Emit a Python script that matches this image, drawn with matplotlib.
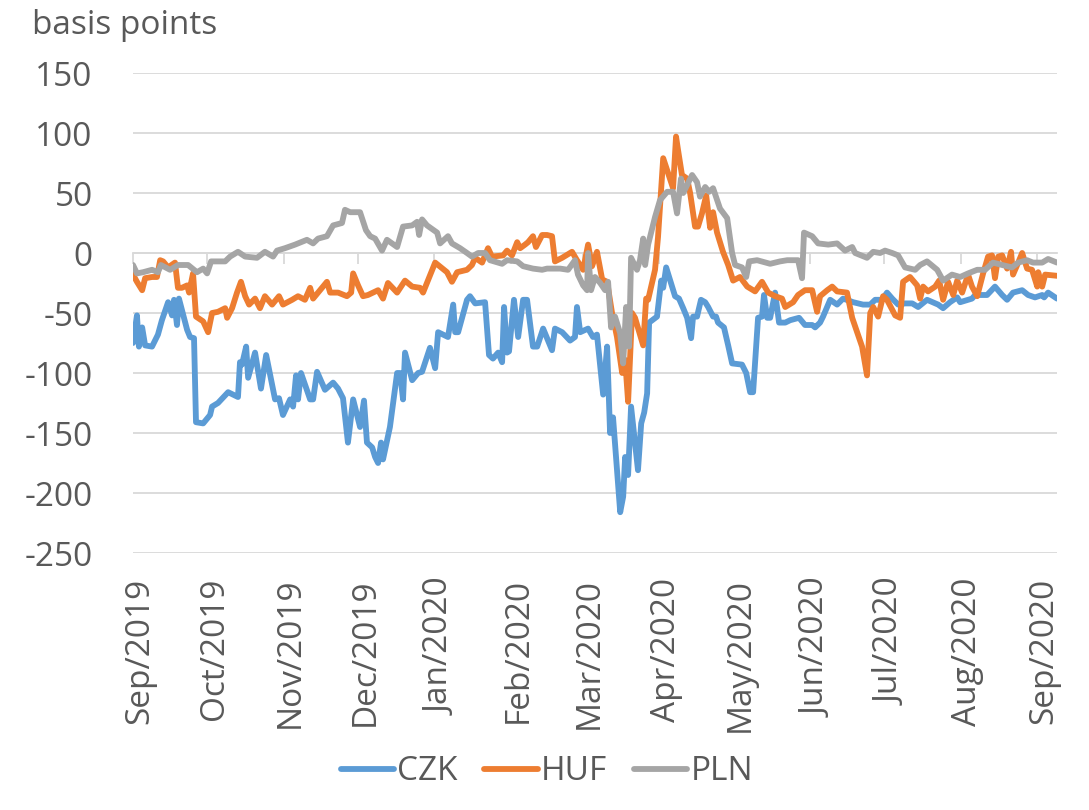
import numpy as np
import pandas as pd
import matplotlib
matplotlib.use("Agg")
import matplotlib.pyplot as plt
import matplotlib.dates as mdates
from matplotlib.transforms import ScaledTranslation

plt.rcParams['font.family'] = ['Open Sans', 'DejaVu Sans']
plt.rcParams['axes.unicode_minus'] = False

# (days since 1 Sep 2019, basis points)
czk_points = [
    (0, -75), (1.6, -52), (2.4, -78), (3.7, -62), (4.9, -77), (7.7, -78), (10.1, -68), (11.7, -56),
    (14.2, -41), (15.8, -52), (16.6, -39), (17.8, -60), (18.6, -38), (21.9, -64), (23.1, -70), (24.7, -71),
    (25.5, -141), (28.4, -142), (31.2, -135), (32, -128), (34.4, -125), (38.5, -116), (42.5, -120), (43.3, -91),
    (44.1, -93), (45.8, -78), (46.6, -104), (49.4, -83), (51.8, -113), (53.9, -85), (57.5, -122), (59.1, -121),
    (60.7, -135), (63.6, -122), (64.8, -128), (66, -102), (66.8, -122), (68, -100), (71.7, -122), (72.9, -122),
    (74.5, -99), (77.7, -114), (81, -108), (83, -113), (85, -121), (87, -158), (89.1, -122), (91.9, -145),
    (93.5, -123), (94.7, -158), (96.8, -162), (98, -170), (99.2, -175), (100.4, -158), (101.2, -172), (104, -145),
    (106.9, -100), (108.1, -100), (109.3, -122), (110.1, -83), (113, -106), (115.4, -100), (117, -99), (120.2, -79),
    (122.3, -96), (123.5, -66), (127.5, -70), (129.6, -43), (130.4, -66), (131.6, -66), (135.2, -39), (136.4, -36),
    (138.5, -42), (142.5, -41), (144.1, -85), (145.7, -88), (147.8, -83), (149.4, -91), (150.2, -45), (151.4, -83),
    (152.2, -82), (154.2, -39), (155.9, -70), (157.9, -39), (159.5, -39), (161.9, -78), (163.6, -78), (166, -63),
    (169.6, -81), (170.8, -63), (173.7, -66), (176.9, -73), (178.9, -70), (179.7, -45), (181, -66), (184.2, -63),
    (186.2, -70), (187.8, -68), (190.3, -118), (191.9, -78), (193.1, -150), (194.3, -137), (197.2, -216), (198.4, -203),
    (199.2, -170), (200.4, -185), (201.6, -128), (204.4, -181), (205.7, -142), (206.9, -133), (208.1, -117), (208.9, -58),
    (212.1, -53), (213.8, -23), (214.6, -29), (215.8, -12), (219.4, -36), (221, -38), (222.7, -46), (224.3, -54),
    (225.9, -71), (226.7, -53), (228.3, -53), (229.9, -39), (231.6, -41), (232.8, -45), (234.8, -53), (236, -53),
    (236.8, -58), (239.2, -62), (240.9, -77), (242.5, -92), (246.5, -93), (248.2, -100), (249.8, -116), (251, -116),
    (253, -54), (254.6, -53), (255.4, -35), (256.7, -54), (257.9, -54), (259.9, -33), (261.5, -58), (264, -58),
    (266, -56), (269.6, -54), (272, -60), (274.9, -60), (276.1, -62), (278.1, -58), (279.3, -53), (282.2, -39),
    (285, -43), (287.4, -38), (291.5, -41), (295.5, -43), (298.4, -43), (300.4, -39), (303.2, -39), (305.2, -33),
    (307.3, -38), (309.7, -43), (312.5, -42), (315.4, -42), (317.8, -45), (321.4, -39), (325.9, -43), (327.9, -46),
    (330.7, -41), (333.6, -37), (334.8, -41), (339.6, -38), (340.9, -35), (345.7, -35), (348.9, -28), (351.8, -35),
    (353.8, -39), (356.2, -33), (359.9, -31), (362.3, -35), (365.1, -37), (368, -35), (368.8, -37), (370.4, -33),
    (374, -38),
]

huf_points = [
    (0, -18), (1.6, -24), (3.7, -31), (4.9, -21), (7.7, -20), (9.7, -20), (11, -6), (12.2, -7),
    (14.2, -12), (17, -8), (18.2, -29), (19.8, -29), (21.9, -27), (22.7, -33), (24.3, -17), (25.5, -53),
    (28.4, -57), (30.4, -66), (32, -50), (34.4, -49), (37.3, -46), (38.1, -54), (40.1, -46), (42.1, -33),
    (43.7, -24), (45.4, -36), (47, -43), (49.4, -38), (51.4, -46), (53.4, -36), (56.3, -43), (59.1, -36),
    (60.7, -43), (64.4, -39), (66.8, -36), (69.6, -39), (71.7, -29), (72.9, -38), (74.9, -33), (78.5, -24),
    (79.8, -33), (83, -33), (86.6, -36), (88.3, -33), (89.1, -17), (91.1, -27), (93.1, -36), (95.1, -35),
    (99.2, -31), (101.2, -38), (103.2, -25), (106.9, -33), (110.1, -23), (113, -28), (116.2, -29), (117.4, -33),
    (122.3, -8), (127.1, -16), (129.1, -24), (131.2, -16), (135.2, -14), (137.2, -10), (138.5, -4), (141.3, -8),
    (143.7, 4), (145.3, -3), (149.8, -2), (151.4, 2), (153.4, -2), (155.5, 9), (156.7, 4), (158.7, 7),
    (159.9, 9), (161.9, 14), (163.1, 5), (165.6, 15), (167.6, 15), (169.6, 14), (170.8, -7), (173.7, -4),
    (177.7, 1), (179.7, -6), (182.2, -14), (184.2, 7), (185.8, -11), (187.8, 1), (189.9, -22), (191.9, -24),
    (193.9, -50), (195.9, -70), (198, -100), (199.2, -89), (200.4, -124), (202, -50), (203.2, -54), (206.5, -77),
    (207.7, -38), (208.5, -39), (211.3, -14), (212.5, 13), (214.6, 79), (216.2, 69), (218.6, 54), (219.8, 97),
    (220.6, 86), (222.2, 65), (224.3, 62), (225.5, 50), (227.5, 22), (228.7, 22), (230.3, 33), (232, 48),
    (233.6, 21), (234.8, 34), (236.4, 17), (238.8, 1), (240.9, -10), (242.9, -23), (245.7, -20), (248.6, -28),
    (251.8, -32), (254.6, -24), (257.1, -33), (259.9, -36), (262.7, -38), (264, -45), (267.2, -41), (269.2, -35),
    (272, -31), (274.9, -31), (276.9, -49), (278.1, -36), (281, -31), (283, -28), (285, -32), (289, -33),
    (291.1, -54), (295.1, -78), (297.1, -102), (298.4, -50), (299.6, -45), (301.6, -53), (303.6, -36), (305.2, -39),
    (308.5, -52), (310.5, -54), (311.7, -24), (314.5, -20), (317.4, -27), (318.6, -38), (319.8, -28), (321.8, -32),
    (324.7, -28), (326.3, -23), (327.9, -39), (329.9, -24), (332, -35), (333.6, -23), (335.6, -33), (338, -18),
    (339.6, -28), (341.7, -36), (344.1, -17), (346.1, -3), (347.7, -2), (348.9, -21), (350.2, -3), (351.8, -2),
    (353.8, -13), (355.4, 1), (356.2, -18), (358.3, -8), (359.9, 0), (361.9, -13), (363.9, -14), (366, -28),
    (366.4, -16), (368, -28), (369.2, -18), (374, -19),
]

pln_points = [
    (0, -10), (1.6, -17), (4.1, -16), (7.7, -14), (10.1, -16), (11.3, -10), (15, -14), (18.2, -10),
    (22.3, -10), (25.9, -16), (28.4, -13), (30, -17), (31.6, -7), (37.3, -7), (39.3, -3), (42.5, 1),
    (45.4, -3), (50.2, -4), (53.4, 1), (56.7, -3), (58.3, 2), (61.5, 4), (65.6, 7), (70.4, 11),
    (72.9, 8), (74.9, 12), (78.5, 14), (81, 23), (84.6, 25), (85.8, 36), (87.9, 34), (91.9, 34),
    (94.3, 19), (96, 14), (98, 12), (100.8, 2), (102.8, 11), (106.9, 5), (109.3, 22), (113, 23),
    (115, 26), (115.8, 15), (117, 28), (119, 23), (123.1, 17), (124.3, 8), (127.5, 14), (129.1, 8),
    (132.4, 4), (135.2, 0), (137.2, -3), (139.7, 0), (142.5, 0), (144.5, -6), (149.4, -9), (151.4, -6),
    (155.5, -7), (157.9, -11), (161.9, -13), (165.6, -14), (167.6, -13), (172.9, -13), (176.1, -14), (178.9, -6),
    (180.1, -18), (182.2, -27), (183.8, -31), (184.2, 0), (185.4, -31), (187, -20), (189.1, -25), (191.1, -31),
    (192.3, -24), (193.5, -62), (195.1, -53), (197.2, -67), (198.4, -92), (199.6, -45), (200.8, -78), (201.6, -4),
    (204, -14), (205.2, -6), (206.5, 12), (207.3, -10), (208.5, 7), (211.3, 30), (213.3, 44), (216.2, 51),
    (218.6, 51), (220.2, 33), (221.8, 62), (222.7, 50), (226.3, 65), (228.3, 59), (229.5, 47), (231.6, 55),
    (233.2, 51), (234.8, 54), (237.6, 37), (240.5, 29), (242.5, 0), (243.7, -10), (246.5, -12), (248.2, -20),
    (249.4, -7), (252.6, -6), (257.9, -9), (261.9, -7), (264.8, -6), (269.2, -6), (270.8, -21), (271.6, 17),
    (274.9, 14), (277.3, 8), (281.4, 7), (285, 8), (288.2, 2), (291.1, 5), (292.3, 0), (297.1, -4),
    (299.6, 1), (302.4, 0), (304.4, 2), (307.3, 0), (309.7, -2), (312.5, -12), (316.6, -14), (318.6, -10),
    (321.4, -7), (325.5, -14), (327.9, -23), (331.5, -18), (334.8, -20), (338, -17), (341.7, -14), (344.9, -14),
    (348.1, -8), (351.8, -10), (355.8, -12), (358.3, -8), (361.9, -6), (364.3, -8), (368, -8), (370.4, -5),
    (374, -8),
]

series_names = ['CZK', 'HUF', 'PLN']
series_colors = ['#5B9BD5', '#ED7D31', '#A5A5A5']
y_ticks = [-250, -200, -150, -100, -50, 0, 50, 100, 150]

start = pd.Timestamp('2019-09-01')
text_col = '#595959'
grid_col = '#D9D9D9'

fig = plt.figure(figsize=(10.89, 8.10), dpi=100)
ax = fig.add_axes([133 / 1089, 1 - 553 / 810, (1057 - 133) / 1089, 480 / 810])

for pts, name, col in zip([czk_points, huf_points, pln_points], series_names, series_colors):
    days, vals = zip(*pts)
    dates = start + pd.to_timedelta(np.array(days), unit='D')
    ax.plot(dates, vals, color=col, lw=4.2, label=name, solid_joinstyle='round', solid_capstyle='round')

ax.set_ylim(-250, 150)
ax.set_yticks(y_ticks)
ax.set_xlim(start, start + pd.Timedelta(days=374))
ax.xaxis.set_major_locator(mdates.MonthLocator())
ax.xaxis.set_major_formatter(mdates.DateFormatter('%b/%Y'))
ax.grid(axis='y', color=grid_col, lw=1.3)
ax.set_axisbelow(True)
for s in ax.spines.values():
    s.set_visible(False)
ax.tick_params(axis='both', length=0, colors=text_col, labelsize=24)
ax.tick_params(axis='y', pad=29)
ax.tick_params(axis='x', pad=18, labelrotation=90)
shift = ScaledTranslation(0.07, 0, fig.dpi_scale_trans)
for lab in ax.get_xticklabels():
    lab.set_transform(lab.get_transform() + shift)

# small tick marks on the zero line
sec = ax.secondary_xaxis(250 / 400)
sec.set_alignment('bottom')
sec.xaxis.set_major_locator(mdates.MonthLocator())
sec.tick_params(direction='out', length=8, width=1.3, color=grid_col, labelbottom=False, labeltop=False)
sec.spines['bottom'].set_color(grid_col)
sec.spines['bottom'].set_linewidth(1.3)
sec.set_zorder(0.5)

fig.text(32 / 1089, 1 - 25 / 810, 'basis points', color=text_col, fontsize=24, ha='left', va='center')

leg = ax.legend(loc='center', bbox_to_anchor=(547 / 1089, 1 - 772 / 810), bbox_transform=fig.transFigure,
                ncol=3, frameon=False, fontsize=24, handlelength=1.6, handletextpad=0.1, columnspacing=0.8)
for t in leg.get_texts():
    t.set_color(text_col)

fig.savefig('out.png', dpi=100)
